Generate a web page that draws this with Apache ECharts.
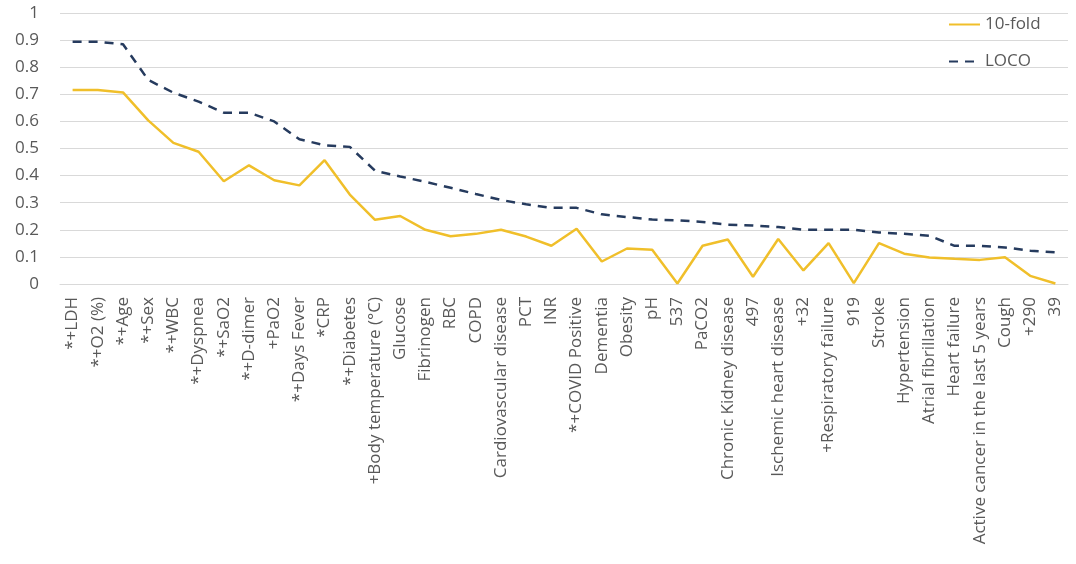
<!DOCTYPE html>
<html>
<head>
<meta charset="utf-8">
<script src="https://cdn.jsdelivr.net/npm/echarts@6/dist/echarts.min.js"></script>
<style>
  html, body { margin: 0; padding: 0; background: #fff; }
  #chart { width: 1076px; height: 564px; }
</style>
</head>
<body>
<div id="chart"></div>
<script>
const categories = [
  '*+LDH', '*+O2 (%)', '*+Age', '*+Sex', '*+WBC', '*+Dyspnea', '*+SaO2', '*+D-dimer',
  '+PaO2', '*+Days Fever', '*CRP', '*+Diabetes', '+Body temperature (°C)', 'Glucose',
  'Fibrinogen', 'RBC', 'COPD', 'Cardiovascular disease', 'PCT', 'INR', '*+COVID Positive',
  'Dementia', 'Obesity', 'pH', '537', 'PaCO2', 'Chronic Kidney disease', '497',
  'Ischemic heart disease', '+32', '+Respiratory failure', '919', 'Stroke', 'Hypertension',
  'Atrial fibrillation', 'Heart failure', 'Active cancer in the last 5 years', 'Cough', '+290', '39'
];
const tenFold = [
  0.716, 0.716, 0.707, 0.604, 0.521, 0.488, 0.379, 0.438,
  0.383, 0.364, 0.457, 0.33, 0.237, 0.251,
  0.2, 0.176, 0.185, 0.2, 0.175, 0.141, 0.204,
  0.083, 0.131, 0.126, 0.002, 0.141, 0.164, 0.027,
  0.166, 0.05, 0.151, 0.003, 0.151, 0.112,
  0.098, 0.093, 0.089, 0.099, 0.03, 0.002
];
const loco = [
  0.894, 0.894, 0.885, 0.753, 0.706, 0.673, 0.632, 0.632,
  0.6, 0.534, 0.512, 0.506, 0.418, 0.397,
  0.377, 0.355, 0.332, 0.31, 0.294, 0.281, 0.281,
  0.257, 0.247, 0.238, 0.235, 0.229, 0.219, 0.216,
  0.21, 0.2, 0.2, 0.2, 0.19, 0.185,
  0.178, 0.141, 0.141, 0.135, 0.123, 0.117
];
const yTicks = { min: 0, max: 1, step: 0.1 };

const chart = echarts.init(document.getElementById('chart'));
chart.setOption({
  animation: false,
  textStyle: { fontFamily: 'Open Sans' },
  grid: { left: 60, right: 8, top: 13, bottom: 280 },
  legend: {
    orient: 'vertical',
    left: 943,
    top: 11,
    itemWidth: 31,
    itemHeight: 14,
    itemGap: 20,
    itemStyle: { opacity: 0 },
    textStyle: { color: '#595959', fontSize: 17, fontFamily: 'Open Sans' },
    data: ['10-fold', 'LOCO']
  },
  xAxis: {
    type: 'category',
    data: categories,
    boundaryGap: true,
    axisLine: { show: true, lineStyle: { color: '#d9d9d9' } },
    axisTick: { show: false },
    axisLabel: {
      interval: 0,
      rotate: 90,
      color: '#595959',
      fontSize: 17,
      margin: 13
    }
  },
  yAxis: {
    type: 'value',
    min: yTicks.min,
    max: yTicks.max,
    interval: yTicks.step,
    axisLine: { show: false },
    axisTick: { show: false },
    splitLine: { lineStyle: { color: '#d9d9d9', width: 1 } },
    axisLabel: {
      color: '#595959',
      fontSize: 17,
      margin: 21,
      formatter: v => String(Math.round(v * 10) / 10)
    }
  },
  series: [
    {
      name: '10-fold',
      type: 'line',
      data: tenFold,
      symbol: 'none',
      lineStyle: { color: '#F0BF2A', width: 2.5 },
      itemStyle: { color: '#F0BF2A' }
    },
    {
      name: 'LOCO',
      type: 'line',
      data: loco,
      symbol: 'none',
      lineStyle: { color: '#263B5E', width: 2.5, type: [9, 7] },
      itemStyle: { color: '#263B5E' }
    }
  ]
});
</script>
</body>
</html>
